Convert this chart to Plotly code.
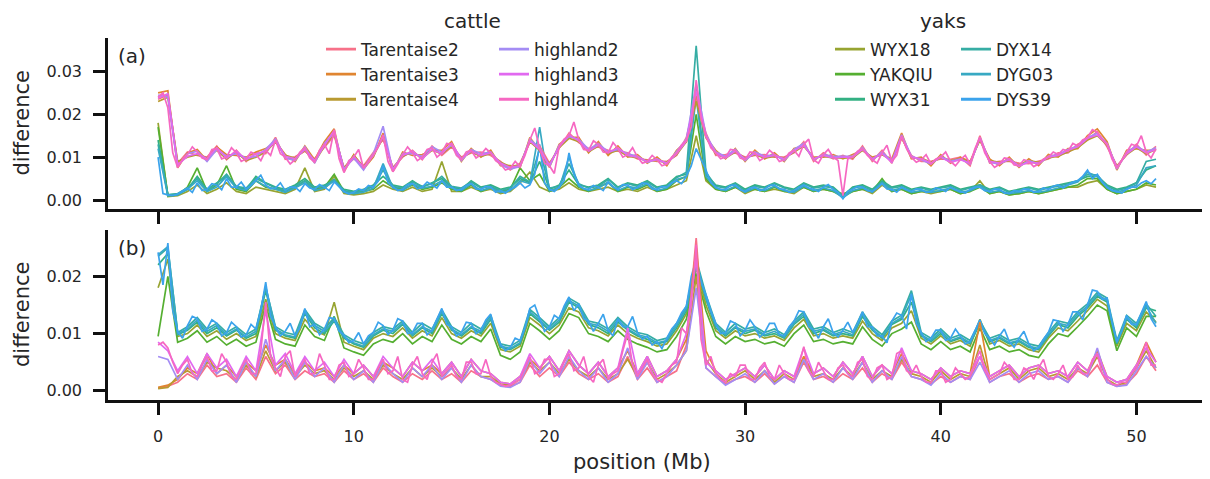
import plotly.graph_objects as go

# positions along the chromosome (Mb)
positions_mb = [i * 0.5 for i in range(103)]        # 0.5 Mb windows
positions_fine_mb = [i * 0.25 for i in range(205)]  # 0.25 Mb windows (top-drawn series)

# values are in units of 1e-4 (difference)
UNIT = 1e-4

# ---------------- panel (a) ----------------
a_Tarentaise2 = [235,245,85,112,104,100,126,94,116,90,
 110,108,146,95,101,114,96,124,150,76,
 96,80,110,142,76,100,116,94,126,104,
 124,100,110,112,104,90,70,86,134,126,
 86,120,156,134,120,124,116,114,110,96,
 94,90,90,104,146,240,156,104,106,110,
 100,104,106,100,100,110,136,90,110,96,
 104,95,126,90,116,86,144,104,90,90,
 96,95,100,80,150,86,90,90,86,85,
 90,96,110,110,130,140,160,124,80,104,
 130,105,125]
a_Tarentaise3 = [250,255,75,110,118,92,124,106,104,100,
 112,120,136,106,90,126,94,136,166,66,
 106,72,100,156,66,112,104,106,116,116,
 136,90,120,100,116,80,80,76,146,116,
 76,130,146,146,110,136,104,126,100,106,
 86,100,80,116,136,250,146,116,96,120,
 90,116,96,110,90,120,126,100,100,106,
 96,106,116,100,106,96,156,96,100,80,
 106,86,100,90,140,96,80,100,76,96,
 80,106,100,120,120,150,166,136,70,116,
 120,116,116]
a_Tarentaise4 = [230,240,90,100,106,98,116,96,112,92,
 100,112,136,104,98,116,88,126,154,74,
 104,78,102,146,74,102,112,98,116,108,
 126,98,112,102,108,88,78,82,136,116,
 84,122,144,136,112,126,108,116,102,98,
 92,92,88,106,136,230,146,108,98,112,
 98,106,98,102,98,112,126,98,102,98,
 98,98,116,98,106,92,146,98,98,88,
 98,92,96,88,140,92,88,92,82,92,
 88,98,102,112,122,140,150,128,78,106,
 122,108,118]
a_highland2 = [245,240,78,108,114,90,118,102,108,98,
 102,118,142,98,92,124,86,132,158,72,
 98,70,108,172,68,108,108,102,124,112,
 128,92,118,108,112,82,72,78,142,122,
 78,128,148,142,118,132,112,118,108,102,
 88,96,84,112,142,270,152,112,102,118,
 92,112,102,106,92,118,132,94,106,102,
 102,102,122,94,112,90,152,102,94,84,
 102,90,96,84,146,88,84,96,78,92,
 84,102,106,118,126,146,156,132,72,112,
 126,112,122]
a_highland3 = [238,248,82,102,108,96,122,98,114,94,
 108,114,138,102,96,118,92,128,162,68,
 102,76,104,148,72,104,114,96,118,108,
 132,96,114,104,110,86,76,80,138,118,
 82,124,152,138,114,128,110,122,104,100,
 90,94,86,108,138,255,148,110,98,114,
 96,108,100,104,96,114,128,96,104,98,
 100,100,118,96,108,88,148,100,96,86,
 100,88,94,86,144,90,86,94,80,88,
 86,100,104,116,124,144,152,130,76,108,
 124,110,118]
# top-drawn cattle series, 0.25 Mb windows
a_highland4 = [240,250,215,110,76,95,106,124,112,98,
 94,118,120,96,100,122,110,90,96,112,
 106,92,116,104,140,108,100,84,94,112,
 122,98,88,116,130,108,164,96,64,92,
 100,118,74,88,106,124,152,90,66,84,
 106,124,110,92,100,118,122,100,110,132,
 130,104,94,112,116,98,106,120,110,92,
 84,70,74,90,78,104,140,168,120,86,
 80,62,126,142,150,182,140,118,116,138,
 130,112,110,134,120,100,106,122,100,86,
 90,104,94,80,84,100,110,128,140,170,
 280,190,150,122,110,96,100,118,116,98,
 94,112,110,92,100,116,106,90,94,110,
 116,102,130,142,94,86,106,118,100,92,
 10,96,100,114,120,104,94,86,110,128,
 90,104,150,120,100,88,94,106,84,96,
 100,112,90,80,94,104,84,120,146,110,
 90,76,84,98,96,82,80,94,90,78,
 84,96,100,112,106,118,114,132,126,140,
 146,164,158,142,130,96,74,92,110,130,
 126,150,112,98,120]

a_WYX18 = [180,8,10,20,35,15,25,40,20,15,
 30,25,20,15,25,75,20,25,55,15,
 12,15,20,35,25,20,30,20,25,90,
 20,20,30,20,25,15,20,40,65,30,
 20,25,40,25,20,25,30,20,25,20,
 30,20,25,35,45,150,45,25,20,30,
 15,25,20,25,20,15,30,20,25,20,
 15,20,25,15,35,20,25,15,20,15,
 20,25,15,20,45,15,20,12,15,20,
 15,20,25,30,30,40,45,25,15,20,
 25,35,30]
a_YAKQIU = [170,10,12,30,75,20,35,80,25,20,
 45,30,25,20,30,45,25,30,60,20,
 15,20,25,45,30,25,35,25,30,40,
 25,20,35,20,30,20,25,75,45,60,
 20,30,50,30,20,30,40,20,30,25,
 35,20,25,45,55,200,50,25,20,30,
 20,25,20,30,20,20,30,20,25,20,
 8,20,25,20,50,20,25,15,20,20,
 20,25,15,20,30,15,20,12,15,20,
 15,20,25,30,35,50,50,25,15,20,
 25,40,35]
a_WYX31 = [140,12,14,25,55,25,40,55,30,25,
 55,40,30,25,35,50,30,35,45,25,
 20,25,35,55,35,30,45,30,40,50,
 30,25,45,30,35,25,30,50,40,90,
 25,35,70,35,30,35,50,30,40,35,
 45,30,35,55,60,260,60,35,30,40,
 25,35,30,40,30,25,40,30,35,30,
 10,30,35,25,45,30,35,25,30,25,
 30,35,25,30,35,25,30,20,25,30,
 25,30,35,40,45,55,55,35,25,30,
 40,70,80]
a_DYX14 = [130,12,15,28,50,22,38,60,32,28,
 50,38,28,22,32,45,28,32,48,22,
 18,22,32,70,32,28,42,32,38,55,
 32,28,42,28,32,22,28,55,42,120,
 28,32,85,38,28,32,48,28,38,32,
 42,28,32,52,65,360,65,32,28,38,
 22,32,28,38,28,22,38,28,32,28,
 8,28,32,22,42,28,32,22,28,22,
 28,32,22,28,35,22,28,18,22,28,
 22,28,32,38,45,60,58,32,22,28,
 40,90,95]
a_DYG03 = [120,10,12,25,45,20,30,55,28,22,
 45,32,25,18,28,40,22,28,45,18,
 15,18,28,85,28,22,38,28,32,45,
 28,22,38,22,28,18,22,45,38,170,
 22,28,100,32,22,28,42,22,32,28,
 38,22,28,48,55,240,55,28,22,32,
 18,28,22,32,22,18,32,22,28,22,
 5,22,28,18,40,22,28,18,22,18,
 22,28,18,22,32,18,22,15,18,22,
 18,22,28,35,42,65,55,28,18,25,
 35,75,80]
# top-drawn yak series, 0.25 Mb windows
a_DYS39 = [100,15,12,10,14,22,28,18,40,22,
 25,38,35,24,50,30,30,42,25,34,
 45,58,35,26,28,40,22,30,30,20,
 38,28,25,36,30,22,42,30,20,14,
 18,26,22,34,30,44,80,40,32,22,
 25,36,38,26,30,42,35,28,45,30,
 30,22,25,34,38,26,25,32,30,18,
 22,16,25,30,40,28,35,60,130,40,
 25,20,30,45,110,60,35,26,25,34,
 30,22,42,30,25,36,35,24,30,40,
 38,26,25,32,30,40,45,38,55,80,
 120,95,70,40,30,24,25,34,35,24,
 20,28,30,22,25,34,35,26,25,18,
 22,30,35,28,25,20,30,36,25,18,
 3,20,25,32,30,22,20,28,38,26,
 25,18,30,24,20,26,25,18,20,28,
 25,20,30,24,20,16,25,30,30,22,
 20,26,25,16,15,22,20,26,25,18,
 20,28,25,32,35,28,35,42,45,55,
 70,50,60,42,30,22,20,16,25,30,
 30,40,45,38,50]

# ---------------- panel (b) ----------------
b_Tarentaise2 = [5,8,15,30,20,45,25,30,15,40,
 20,60,30,45,20,35,25,30,15,35,
 20,30,15,40,25,15,30,20,35,20,
 30,15,35,25,20,10,8,15,45,25,
 40,25,50,30,20,30,15,25,60,20,
 40,15,25,35,80,267,40,25,12,20,
 25,15,30,12,25,15,50,20,25,15,
 30,20,40,15,30,20,50,25,20,12,
 25,15,25,20,60,15,25,30,15,25,
 30,20,25,15,35,25,45,15,8,12,
 30,60,35]
b_Tarentaise3 = [6,10,20,40,30,65,30,45,25,50,
 35,80,45,55,30,50,35,40,25,45,
 30,45,25,50,40,25,50,35,45,30,
 50,25,55,35,30,15,12,25,55,40,
 60,35,70,45,30,50,25,40,70,30,
 60,25,35,55,90,250,70,35,20,30,
 40,25,45,20,35,25,60,30,40,25,
 50,30,60,25,45,30,65,35,30,20,
 40,25,35,30,120,25,35,45,25,40,
 45,30,35,25,50,35,70,25,15,20,
 45,85,50]
b_Tarentaise4 = [4,6,25,35,25,50,40,35,20,45,
 25,70,35,50,25,45,30,35,20,40,
 25,35,20,45,30,20,40,25,40,25,
 40,20,45,25,25,12,10,20,50,35,
 50,30,55,35,25,40,20,30,55,25,
 50,20,30,45,70,200,55,30,15,25,
 35,20,35,15,30,20,55,25,30,20,
 40,25,50,20,35,25,55,30,25,15,
 35,20,30,25,80,20,30,40,20,35,
 40,25,30,20,40,30,60,20,10,15,
 40,70,40]
b_highland2 = [60,55,20,45,20,55,30,45,15,50,
 25,90,35,55,20,50,25,40,15,45,
 20,35,15,50,30,15,40,25,45,20,
 40,15,45,25,20,8,6,15,55,30,
 50,25,60,35,20,40,15,30,75,20,
 50,15,25,45,70,180,40,25,10,20,
 30,15,35,12,25,15,55,20,30,15,
 40,20,50,15,35,20,60,25,20,10,
 30,15,25,20,50,15,25,35,15,30,
 35,20,25,15,40,25,75,15,8,10,
 35,60,40]
b_highland3 = [85,70,35,60,30,65,40,55,25,60,
 35,140,45,65,30,60,35,50,25,55,
 30,45,25,60,40,25,50,35,55,30,
 50,25,55,35,30,15,12,25,65,40,
 60,35,70,45,30,50,25,40,110,30,
 60,25,35,55,100,230,50,35,20,30,
 40,25,45,20,35,25,75,30,40,25,
 50,30,60,25,45,30,75,35,30,20,
 40,25,35,30,60,25,35,45,25,40,
 45,30,35,25,50,35,65,25,15,20,
 45,75,50]
# top-drawn cattle series, 0.25 Mb windows
b_highland4 = [80,85,75,50,30,45,55,30,25,45,
 60,35,35,65,50,25,20,40,55,30,
 30,70,155,60,40,25,60,70,25,40,
 55,30,30,65,45,20,20,45,50,25,
 30,55,40,20,20,40,55,30,35,60,
 20,15,45,60,30,20,50,65,25,35,
 45,25,20,50,50,30,30,55,25,15,
 12,8,10,15,20,40,60,30,35,55,
 55,25,30,50,65,35,40,60,25,15,
 45,55,20,30,35,70,100,45,25,40,
 55,30,20,15,30,45,50,110,100,150,
 255,90,45,60,30,20,15,30,25,45,
 45,20,20,40,50,25,20,45,30,20,
 20,45,77,35,25,50,35,20,20,40,
 45,30,25,50,55,25,20,40,45,20,
 25,65,70,35,30,45,25,15,15,35,
 35,15,20,40,30,20,25,50,70,35,
 20,25,30,50,40,20,20,40,35,20,
 40,55,25,20,30,45,20,25,45,30,
 30,55,65,30,20,12,10,15,15,30,
 40,60,85,45,45]

b_WYX18 = [180,230,95,100,115,95,105,90,100,88,
 95,160,100,92,88,125,105,98,155,85,
 78,72,92,100,95,110,92,105,96,128,
 100,92,105,96,118,72,68,78,128,115,
 100,115,145,138,110,105,96,115,100,92,
 86,78,82,105,135,215,150,105,92,105,
 96,100,92,96,88,110,125,96,100,92,
 96,92,122,100,88,110,118,140,92,82,
 96,82,88,78,125,82,88,78,82,72,
 68,92,110,105,122,140,160,148,78,118,
 105,138,120]
b_YAKQIU = [95,200,85,92,105,85,95,80,90,78,
 85,150,90,82,78,115,95,88,130,75,
 68,62,82,90,85,100,82,95,86,115,
 90,82,95,86,108,62,55,68,118,105,
 90,105,135,128,100,95,86,105,90,82,
 76,68,72,95,125,205,140,95,82,95,
 86,90,82,86,78,100,115,86,90,82,
 86,82,112,90,78,100,108,120,82,72,
 86,72,78,68,110,72,78,68,72,62,
 58,82,100,95,112,130,150,140,70,110,
 95,130,130]
b_WYX31 = [220,240,98,106,120,100,110,96,106,92,
 100,175,106,96,92,135,110,100,122,92,
 82,76,96,106,100,116,96,110,100,135,
 106,96,110,100,125,76,72,82,135,120,
 106,120,155,145,116,110,100,120,106,96,
 90,82,86,110,140,220,160,110,96,110,
 100,106,96,100,92,116,130,100,106,96,
 100,96,130,106,92,116,125,155,96,86,
 100,86,92,82,118,86,92,82,86,76,
 72,96,116,110,130,145,165,155,82,125,
 110,145,140]
b_DYX14 = [235,250,102,112,128,108,118,102,112,98,
 108,180,112,102,98,142,118,108,128,98,
 88,82,102,112,108,122,102,118,108,142,
 112,102,118,108,132,82,78,88,142,128,
 112,128,162,152,122,118,108,128,112,102,
 98,88,92,118,148,230,168,118,102,118,
 108,112,102,108,98,122,138,108,112,102,
 108,102,138,112,98,122,132,175,102,92,
 108,92,98,88,122,92,98,88,92,82,
 78,102,122,118,138,152,172,162,88,132,
 118,152,130]
b_DYG03 = [238,252,100,108,124,104,114,98,108,94,
 104,182,108,98,94,138,114,104,124,94,
 84,78,98,108,104,118,98,112,104,138,
 108,98,112,104,128,78,74,84,138,124,
 108,124,158,148,118,114,104,124,108,98,
 94,84,88,114,144,226,162,114,98,112,
 104,108,98,104,94,118,134,104,108,98,
 104,98,134,108,94,118,128,168,98,88,
 104,88,94,84,120,88,94,84,88,78,
 74,98,118,114,134,148,168,158,84,128,
 114,148,118]
# top-drawn yak series, 0.25 Mb windows
b_DYS39 = [242,185,258,140,104,92,114,130,126,104,
 108,124,118,96,102,120,112,94,98,116,
 108,140,190,130,112,96,104,118,96,110,
 144,112,116,98,108,128,126,104,98,84,
 88,102,82,96,102,120,114,98,106,126,
 122,100,102,118,118,98,106,126,144,116,
 112,96,102,120,118,100,106,124,134,100,
 82,70,76,92,88,110,144,150,126,104,
 112,132,126,148,164,140,152,126,122,104,
 118,134,106,96,126,112,112,130,102,90,
 96,80,86,74,92,108,118,136,148,200,
 230,190,168,140,118,100,102,122,118,96,
 106,124,112,94,102,118,118,98,96,112,
 122,140,138,112,106,92,112,126,102,94,
 106,120,102,118,138,112,112,96,96,84,
 122,136,132,108,170,118,102,86,92,106,
 106,88,92,108,96,82,86,104,124,100,
 92,80,96,108,86,76,92,104,82,70,
 76,90,102,124,122,104,116,138,138,124,
 152,176,174,160,162,120,86,104,132,116,
 116,136,156,126,112]

cattle_names = ["Tarentaise2", "Tarentaise3", "Tarentaise4", "highland2", "highland3", "highland4"]
yak_names = ["WYX18", "YAKQIU", "WYX31", "DYX14", "DYG03", "DYS39"]
fine_series = {"highland4", "DYS39"}

colors = {
    "Tarentaise2": "#f77189", "Tarentaise3": "#e08531", "Tarentaise4": "#b99a31",
    "WYX18": "#97a431", "YAKQIU": "#55af31", "WYX31": "#33b083",
    "DYX14": "#36ada4", "DYG03": "#38a9c3", "DYS39": "#3ba3ec",
    "highland2": "#a48cf4", "highland3": "#e169f0", "highland4": "#f668c2",
}

panel_a = {
    "Tarentaise2": a_Tarentaise2, "Tarentaise3": a_Tarentaise3, "Tarentaise4": a_Tarentaise4,
    "highland2": a_highland2, "highland3": a_highland3, "highland4": a_highland4,
    "WYX18": a_WYX18, "YAKQIU": a_YAKQIU, "WYX31": a_WYX31,
    "DYX14": a_DYX14, "DYG03": a_DYG03, "DYS39": a_DYS39,
}
panel_b = {
    "Tarentaise2": b_Tarentaise2, "Tarentaise3": b_Tarentaise3, "Tarentaise4": b_Tarentaise4,
    "highland2": b_highland2, "highland3": b_highland3, "highland4": b_highland4,
    "WYX18": b_WYX18, "YAKQIU": b_YAKQIU, "WYX31": b_WYX31,
    "DYX14": b_DYX14, "DYG03": b_DYG03, "DYS39": b_DYS39,
}

legend_of = {
    "Tarentaise2": "legend", "Tarentaise3": "legend", "Tarentaise4": "legend",
    "highland2": "legend2", "highland3": "legend2", "highland4": "legend2",
    "WYX18": "legend3", "YAKQIU": "legend3", "WYX31": "legend3",
    "DYX14": "legend4", "DYG03": "legend4", "DYS39": "legend4",
}

fig = go.Figure()
order = yak_names + cattle_names
for panel, data, xa, ya in (("a", panel_a, "x", "y"), ("b", panel_b, "x2", "y2")):
    for name in order:
        xs = positions_fine_mb if name in fine_series else positions_mb
        fig.add_trace(go.Scatter(
            x=xs, y=[v * UNIT for v in data[name]],
            mode="lines", name=name,
            line=dict(color=colors[name], width=1.7),
            xaxis=xa, yaxis=ya,
            showlegend=False, hoverinfo="x+y+name",
        ))

# legend-only entries (no data) so that the legend keys can be drawn thicker
for name in cattle_names + yak_names:
    fig.add_trace(go.Scatter(
        x=[None], y=[None], mode="lines", name=name,
        line=dict(color=colors[name], width=2.8),
        xaxis="x", yaxis="y", showlegend=True, legend=legend_of[name],
    ))

FONT = "DejaVu Sans"
TXT = "#262626"
axis_common = dict(
    showline=True, linewidth=2.5, linecolor="#111111", mirror=False,
    ticks="outside", ticklen=12, tickwidth=2.5, tickcolor="#111111",
    showgrid=False, zeroline=False,
    tickfont=dict(family=FONT, size=16, color=TXT),
    ticklabelstandoff=8,
)

# the page body has an 8 px margin, so the figure is 8 px smaller on each axis
fig.update_layout(
    width=1202, height=471,
    margin=dict(l=100, r=0, t=30, b=79),
    paper_bgcolor="white", plot_bgcolor="white",
    font=dict(family=FONT, color=TXT),
    xaxis=dict(domain=[0, 1], anchor="y", range=[-2.56, 53.76],
               tickvals=[0, 10, 20, 30, 40, 50], showticklabels=False, **axis_common),
    xaxis2=dict(domain=[0, 1], anchor="y2", range=[-2.56, 53.76], matches="x",
                tickvals=[0, 10, 20, 30, 40, 50], **axis_common),
    yaxis=dict(domain=[0.5276, 1], anchor="x", range=[-0.0021, 0.0378],
               tickvals=[0, 0.01, 0.02, 0.03], tickformat=".2f", **axis_common),
    yaxis2=dict(domain=[0, 0.4696], anchor="x2", range=[-0.0016, 0.0281],
                tickvals=[0, 0.01, 0.02], tickformat=".2f", **axis_common),
)

# helpers: reference page pixel -> paper coordinate (plot area spans page x 108..1210, y 38..400)
def px(xp):
    return (xp - 108) / 1102

def py(yp):
    return (400 - yp) / 362

leg_common = dict(font=dict(family=FONT, size=17, color=TXT), bgcolor="rgba(0,0,0,0)",
                  borderwidth=0, xanchor="left", yanchor="top", traceorder="normal",
                  tracegroupgap=0)
fig.update_layout(
    legend=dict(x=px(321), y=py(31.5), **leg_common),
    legend2=dict(x=px(494), y=py(31.5), **leg_common),
    legend3=dict(x=px(830), y=py(31.5), **leg_common),
    legend4=dict(x=px(956), y=py(31.5), **leg_common),
)

ann = [
    ("cattle", 472, 8.5, 20, 0, "top"),
    ("yaks", 943, 8.5, 20, 0, "top"),
    ("(a)", 132, 56, 20, 0, "middle"),
    ("(b)", 132, 248, 20, 0, "middle"),
    ("difference", 22, 123.5, 21, -90, "middle"),
    ("difference", 22, 315, 21, -90, "middle"),
    ("position (Mb)", 642, 462, 21, 0, "middle"),
]
for text, xp, yp, size, angle, yanc in ann:
    fig.add_annotation(xref="paper", yref="paper", showarrow=False,
                       xanchor="center", yanchor=yanc, borderpad=0,
                       x=px(xp), y=py(yp), text=text, textangle=angle,
                       font=dict(family=FONT, color=TXT, size=size))

fig.write_html("out.html")
